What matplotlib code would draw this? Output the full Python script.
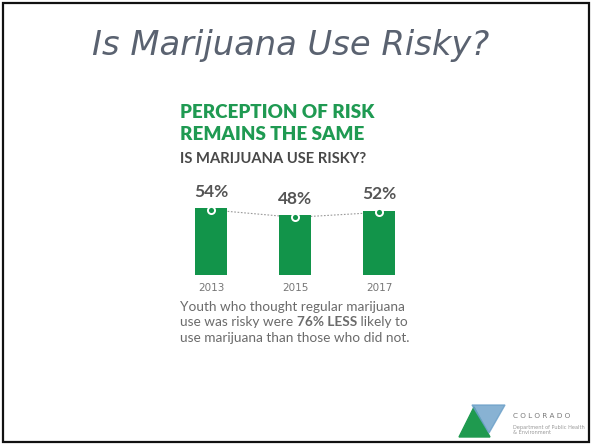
import matplotlib.pyplot as plt
from matplotlib.patches import Polygon, Rectangle

years = ["2013", "2015", "2017"]
risky_pct = [54, 48, 52]

slide_title = "Is Marijuana Use Risky?"
heading = ["PERCEPTION OF RISK", "REMAINS THE SAME"]
subheading = "IS MARIJUANA USE RISKY?"
caption = [
    ["Youth who thought regular marijuana"],
    ["use was risky were ", "76% LESS", " likely to"],
    ["use marijuana than those who did not."],
]

GREEN = "#12944a"
HEAD_GREEN = "#1f9a52"
TITLE_GRAY = "#5a6270"
TEXT_GRAY = "#555555"
CAPTION_GRAY = "#6b6b6b"

W, H = 592, 445
fig = plt.figure(figsize=(W / 100, H / 100), dpi=100)


def fx(px):
    return px / W


def fy(py):
    return 1 - py / H


# slide frame
fig.patches.append(Rectangle((fx(3), fy(442)), fx(586), 439 / H, transform=fig.transFigure,
                             fill=False, edgecolor="#111111", linewidth=1.6))

fig.text(fx(291), fy(45), slide_title, ha="center", va="center", fontsize=24.3,
         style="italic", color=TITLE_GRAY, family="DejaVu Sans")

fig.text(fx(180), fy(113), heading[0], ha="left", va="center", fontsize=13.5,
         fontweight="heavy", color=HEAD_GREEN, family="Lato")
fig.text(fx(180), fy(134), heading[1], ha="left", va="center", fontsize=13.5,
         fontweight="heavy", color=HEAD_GREEN, family="Lato")
fig.text(fx(180), fy(159), subheading, ha="left", va="center", fontsize=10.6,
         fontweight="bold", color="#484848", family="Lato")

ax = fig.add_axes([fx(169), fy(275), fx(252), 124 / H])
x = list(range(len(years)))
ax.bar(x, risky_pct, width=0.37, color=GREEN, zorder=2)
ax.plot(x, [v - 1.5 for v in risky_pct], linestyle=(0, (1.5, 1.5)), color="#9a9a9a",
        linewidth=0.8, zorder=1)
ax.scatter(x, [v - 1.5 for v in risky_pct], s=26, color=GREEN, edgecolors="white",
           linewidths=1.4, zorder=3)
for xi, v in zip(x, risky_pct):
    ax.annotate(f"{v}%", (xi, v), xytext=(0, 6), textcoords="offset points",
                ha="center", va="bottom", fontsize=12.5, fontweight="bold",
                color=TEXT_GRAY, family="Lato")
ax.set_xlim(-0.5, 2.5)
ax.set_ylim(0, 100)
ax.set_xticks(x)
ax.set_xticklabels(years, fontsize=7.5, color="#777777", family="DejaVu Sans")
ax.tick_params(length=0, pad=6)
for spine in ax.spines.values():
    spine.set_visible(False)
ax.set_yticks([])
ax.patch.set_alpha(0)

# caption, with the bold run drawn as its own piece
renderer = fig.canvas.get_renderer()
for i, parts in enumerate(caption):
    xpos = fx(180)
    for j, part in enumerate(parts):
        weight = "bold" if len(parts) == 3 and j == 1 else "normal"
        t = fig.text(xpos, fy(307 + 15.5 * i), part, ha="left", va="center",
                     fontsize=9.8, fontweight=weight, color=CAPTION_GRAY, family="Lato")
        bb = t.get_window_extent(renderer)
        xpos += bb.width / (W)

# department logo, bottom right
fig.patches.append(Polygon([(fx(459), fy(437)), (fx(474), fy(407)), (fx(490), fy(437))],
                           closed=True, transform=fig.transFigure, color="#1f9a4f"))
fig.patches.append(Polygon([(fx(472), fy(405)), (fx(505), fy(405)), (fx(489), fy(433))],
                           closed=True, transform=fig.transFigure, color="#6a9fc8", alpha=0.8))
fig.text(fx(513), fy(416), "C O L O R A D O", ha="left", va="center", fontsize=5.2,
         color="#777777", family="DejaVu Sans")
fig.text(fx(513), fy(430), "Department of Public Health\n& Environment", ha="left",
         va="center", fontsize=3.6, color="#999999", family="DejaVu Sans", linespacing=1.0)

fig.savefig("out.png", dpi=100)
